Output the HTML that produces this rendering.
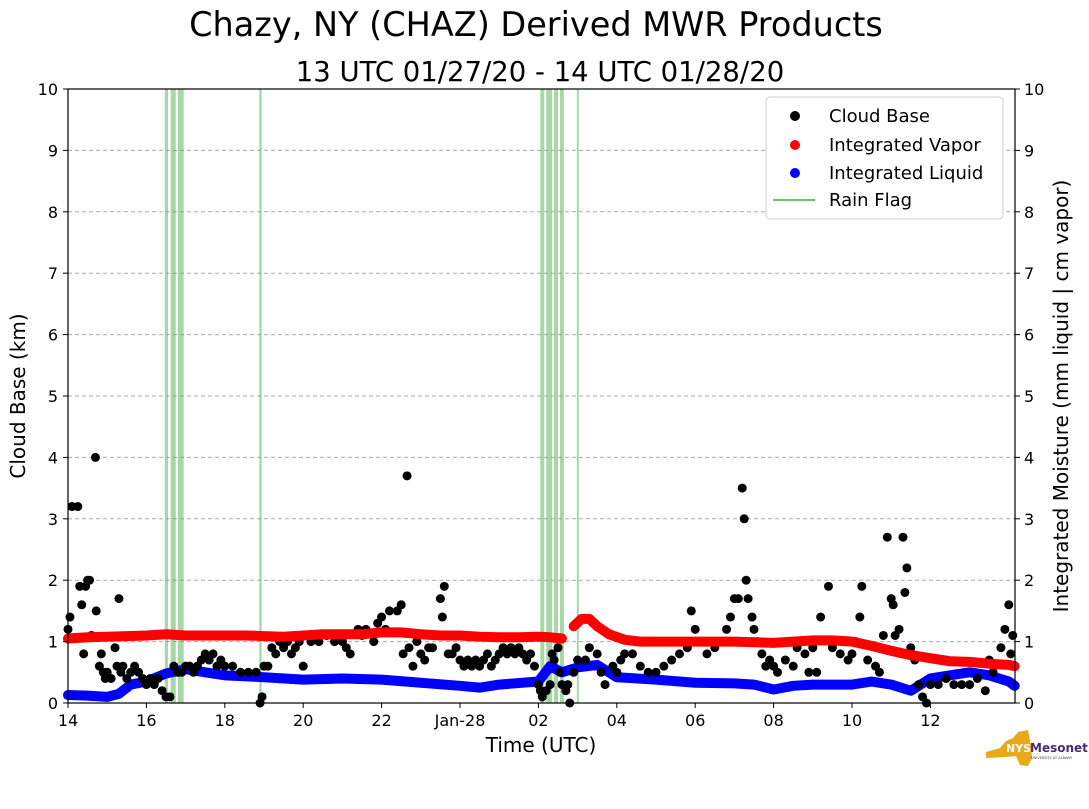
<!DOCTYPE html>
<html><head><meta charset="utf-8"><style>
body{margin:0;background:#fff;width:1089px;height:804px;overflow:hidden;font-family:"Liberation Sans","DejaVu Sans",sans-serif}
</style></head><body>
<svg id="chart" width="1089" height="804" xmlns="http://www.w3.org/2000/svg" font-family="DejaVu Sans, Liberation Sans, sans-serif">
<text x="536" y="36" font-size="33.5" text-anchor="middle">Chazy, NY (CHAZ) Derived MWR Products</text>
<text x="540" y="81" font-size="27.5" text-anchor="middle">13 UTC 01/27/20 - 14 UTC 01/28/20</text>
<g id="grid"></g><g id="rain"></g><g id="marks"></g>
<rect x="68" y="89" width="947" height="614" fill="none" stroke="#000" stroke-width="1.2"/>
<g id="axes"></g>
<text x="541" y="752" font-size="20" text-anchor="middle">Time (UTC)</text>
<text transform="translate(25,396) rotate(-90)" font-size="20" text-anchor="middle">Cloud Base (km)</text>
<text transform="translate(1068,396) rotate(-90)" font-size="20" text-anchor="middle">Integrated Moisture (mm liquid | cm vapor)</text>
<g>
<rect x="766" y="97" width="237" height="122" rx="4" fill="#fff" stroke="#ccc"/>
<circle cx="795" cy="116" r="5" fill="#000"/><text x="829" y="122" font-size="18">Cloud Base</text>
<circle cx="795" cy="145" r="5" fill="#f00"/><text x="829" y="151" font-size="18">Integrated Vapor</text>
<circle cx="795" cy="173" r="5" fill="#00f"/><text x="829" y="179" font-size="18">Integrated Liquid</text>
<line x1="773" y1="200" x2="815" y2="200" stroke="#6abf6a" stroke-width="2"/><text x="829" y="206" font-size="18">Rain Flag</text>
</g>
<g>
<path d="M986 752 L1000 748 L1006 741 L1013 738 L1018 732 L1028 730 L1031 745 L1032 758 L1028 766 L1020 765 L1016 756 L1006 757 L986 758 Z" fill="#e8a91a"/>
<text x="1006" y="752" font-size="11" font-weight="bold" fill="#fff">NYS</text>
<text x="1030" y="752" font-size="12" font-weight="bold" fill="#4b2a78">Mesonet</text>
<text x="1031" y="759" font-size="3.5" fill="#4b2a78">UNIVERSITY AT ALBANY</text>
</g>
</svg>
<script>
const xTicks=[0,2,4,6,8,10,12,14,16,18,20,22];
const xTickLabels=["14","16","18","20","22","Jan-28","02","04","06","08","10","12"];
const yTicks=[0,1,2,3,4,5,6,7,8,9,10];
const rainStart=[2.47,2.62,2.8,4.88,12.05,12.2,12.4,12.55,12.98];
const rainEnd=[2.55,2.75,2.95,4.94,12.15,12.35,12.5,12.65,13.02];
const cbT=[0,0.05,0.1,0.25,0.3,0.35,0.4,0.45,0.5,0.55,0.6,0.7,0.72,0.8,0.85,0.9,0.95,1.0,1.1,1.2,1.25,1.3,1.35,1.4,1.5,1.6,1.7,1.8,1.9,2.0,2.1,2.2,2.3,2.4,2.5,2.6,2.7,2.8,2.9,3.0,3.1,3.2,3.3,3.4,3.5,3.6,3.7,3.8,3.9,4.0,4.2,4.4,4.6,4.8,4.9,4.95,5.0,5.1,5.2,5.3,5.4,5.5,5.6,5.7,5.8,5.9,6.0,6.1,6.2,6.4,6.6,6.8,7.0,7.1,7.2,7.4,7.5,7.6,7.8,7.9,8.0,8.1,8.2,8.4,8.5,8.55,8.65,8.7,8.8,8.9,9.0,9.1,9.2,9.3,9.4,9.5,9.55,9.6,9.7,9.8,9.9,10.0,10.1,10.2,10.3,10.4,10.5,10.6,10.7,10.8,10.9,11.0,11.1,11.2,11.3,11.4,11.5,11.6,11.7,11.8,11.9,12.0,12.05,12.1,12.2,12.3,12.35,12.4,12.5,12.55,12.6,12.7,12.75,12.8,12.9,13.0,13.2,13.3,13.5,13.6,13.7,13.9,14.0,14.1,14.2,14.4,14.6,14.8,15.0,15.2,15.4,15.6,15.8,15.9,16.0,16.1,16.3,16.5,16.7,16.8,16.9,17.0,17.1,17.2,17.25,17.3,17.35,17.45,17.5,17.6,17.7,17.8,17.9,18.0,18.1,18.3,18.5,18.6,18.8,18.9,19.0,19.1,19.2,19.4,19.5,19.7,19.9,20.0,20.1,20.2,20.25,20.4,20.6,20.7,20.8,20.9,21.0,21.05,21.1,21.2,21.3,21.35,21.4,21.5,21.6,21.7,21.8,21.9,22.0,22.2,22.4,22.6,22.8,23.0,23.2,23.4,23.5,23.6,23.8,23.9,24.0,24.05,24.1];
const cbKm=[1.2,1.4,3.2,3.2,1.9,1.6,0.8,1.9,2.0,2.0,1.1,4.0,1.5,0.6,0.8,0.5,0.4,0.5,0.4,0.9,0.6,1.7,0.5,0.6,0.4,0.5,0.6,0.5,0.4,0.3,0.4,0.3,0.4,0.2,0.1,0.1,0.6,0.5,0.5,0.6,0.6,0.5,0.6,0.7,0.8,0.7,0.8,0.6,0.7,0.6,0.6,0.5,0.5,0.5,0.0,0.1,0.6,0.6,0.9,0.8,1.0,0.9,1.0,0.8,0.9,1.0,0.6,1.1,1.0,1.0,1.1,1.0,1.0,0.9,0.8,1.2,1.1,1.2,1.0,1.3,1.4,1.2,1.5,1.5,1.6,0.8,3.7,0.9,0.6,1.0,0.8,0.7,0.9,0.9,1.1,1.7,1.4,1.9,0.8,0.8,0.9,0.7,0.6,0.7,0.6,0.7,0.6,0.7,0.8,0.6,0.7,0.8,0.9,0.8,0.9,0.8,0.9,0.8,0.7,0.8,0.6,0.3,0.2,0.1,0.2,0.3,0.8,0.7,0.9,0.5,0.3,0.2,0.3,0.0,0.5,0.7,0.7,0.9,0.8,0.5,0.3,0.6,0.5,0.7,0.8,0.8,0.6,0.5,0.5,0.6,0.7,0.8,0.9,1.5,1.2,1.0,0.8,0.9,1.0,1.2,1.4,1.7,1.7,3.5,3.0,2.0,1.7,1.4,1.2,1.0,0.8,0.6,0.7,0.6,0.5,0.7,0.6,0.9,0.8,0.5,0.9,0.5,1.4,1.9,0.9,0.8,0.7,0.8,1.0,1.4,1.9,0.7,0.6,0.5,1.1,2.7,1.7,1.6,1.1,1.2,2.7,1.8,2.2,0.9,0.7,0.3,0.1,0.0,0.3,0.3,0.4,0.3,0.3,0.3,0.4,0.2,0.7,0.5,0.9,1.2,1.6,0.8,1.1];
const vapT=[0,0.5,1,1.5,2,2.5,3,3.5,4,4.5,5,5.5,6,6.5,7,7.5,8,8.5,9,9.5,10,10.5,11,11.5,12,12.3,12.6];
const vapV=[1.05,1.07,1.08,1.09,1.1,1.12,1.1,1.1,1.1,1.1,1.09,1.08,1.1,1.12,1.12,1.12,1.15,1.15,1.12,1.1,1.1,1.08,1.07,1.07,1.08,1.07,1.05];
const vap2T=[12.9,13.1,13.3,13.5,13.8,14.2,14.6,15,16,17,18,18.5,19,19.5,20,20.5,21,21.5,22,22.5,23,23.5,24,24.15];
const vap2V=[1.25,1.37,1.37,1.25,1.12,1.03,1.0,1.0,1.0,1.0,0.98,1.0,1.02,1.02,1.0,0.93,0.85,0.78,0.73,0.68,0.67,0.64,0.62,0.6];
const liqT=[0,0.5,1,1.3,1.6,2,2.5,3,3.5,4,5,6,7,8,9,10,10.5,11,12,12.3,12.6,13,13.5,14,15,16,17,17.5,18,18.5,19,20,20.5,21,21.5,22,22.5,23,23.5,24,24.15];
const liqV=[0.13,0.12,0.1,0.15,0.3,0.35,0.48,0.55,0.5,0.45,0.42,0.38,0.4,0.38,0.33,0.28,0.25,0.3,0.35,0.6,0.5,0.58,0.62,0.42,0.38,0.33,0.32,0.3,0.22,0.28,0.3,0.3,0.35,0.3,0.2,0.4,0.45,0.5,0.45,0.35,0.28];
const X=t=>68+t*39.2, Y=v=>703-v*61.4;
const NS="http://www.w3.org/2000/svg";
function mk(p,tag,at){const e=document.createElementNS(NS,tag);for(const k in at)e.setAttribute(k,at[k]);document.getElementById(p).appendChild(e);return e;}
yTicks.forEach(v=>{
 if(v>0&&v<10){const g=mk('grid','line',{x1:68,x2:1015,y1:Y(v),y2:Y(v),stroke:'#aaa','stroke-dasharray':'4,3'});
 
 }
 mk('axes','line',{x1:63,x2:68,y1:Y(v),y2:Y(v),stroke:'#000'});
 mk('axes','line',{x1:1015,x2:1020,y1:Y(v),y2:Y(v),stroke:'#000'});
 const a=mk('axes','text',{x:58,y:Y(v)+6,'font-size':16,'text-anchor':'end'});a.textContent=v;
 
 
 const b=mk('axes','text',{x:1024,y:Y(v)+6,'font-size':16});b.textContent=v;
 
 
});
xTicks.forEach((t,i)=>{
 mk('axes','line',{x1:X(t),x2:X(t),y1:703,y2:708,stroke:'#000'});
 const a=mk('axes','text',{x:X(t),y:726,'font-size':16,'text-anchor':'middle'});a.textContent=xTickLabels[i];
 
 
});
rainStart.forEach((s,i)=>{
 const r=mk('rain','rect',{x:X(s),y:89,width:Math.max(2,X(rainEnd[i])-X(s)),height:614,fill:'#4caf50','fill-opacity':0.5});
 
 
});
function line(ts,vs,col,name){
 const pts=ts.map((t,i)=>X(t)+','+Y(vs[i])).join(' ');
 const p=mk('marks','polyline',{points:pts,fill:'none',stroke:col,'stroke-width':10,'stroke-linecap':'round','stroke-linejoin':'round'});
 
 
}
line(liqT,liqV,'#00f','integrated-liquid');
cbT.forEach((t,i)=>{
 const c=mk('marks','circle',{cx:X(t),cy:Y(cbKm[i]),r:4.5,fill:'#000'});
 
 
});
line(vapT,vapV,'#f00','integrated-vapor');
line(vap2T,vap2V,'#f00','integrated-vapor-2');
</script>
</body></html>
